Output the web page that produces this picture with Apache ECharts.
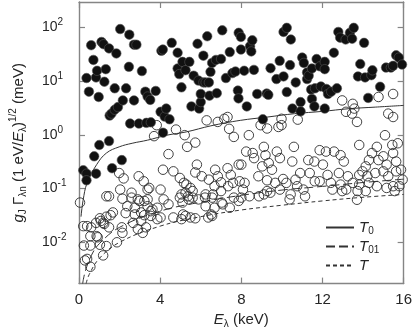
<!DOCTYPE html>
<html><head><meta charset="utf-8">
<script src="https://cdn.jsdelivr.net/npm/echarts@6/dist/echarts.min.js"></script>
<style>html,body{margin:0;padding:0;background:#fff}#c{width:415px;height:334px}</style>
</head><body><div id="c"></div>
<script>
// ---- data (E in keV, reduced width in meV) ----
const filledX = [0.21,0.37,0.37,0.84,0.75,1.0,1.48,1.63,2.11,0.37,0.49,0.60,0.71,0.84,0.89,0.97,1.11,1.21,1.25,1.32,1.48,1.51,1.60,1.76,1.76,1.84,1.92,2.03,2.16,2.32,2.46,2.48,2.52,2.71,2.71,2.83,2.95,3.10,3.27,3.32,3.38,3.51,3.54,3.78,4.02,4.06,4.13,4.14,4.22,4.30,4.46,4.57,4.86,4.86,4.94,5.05,5.10,5.25,5.44,5.54,5.65,5.84,5.89,5.92,6.0,6.0,6.13,6.13,6.24,6.32,6.40,6.43,6.48,6.56,6.75,6.79,7.0,7.06,7.24,7.43,7.56,7.71,7.83,7.86,7.87,7.98,7.98,8.14,8.27,8.43,8.49,8.54,8.62,8.78,9.06,9.25,9.33,9.44,9.73,9.89,10.08,10.08,10.24,10.24,10.40,10.44,10.52,10.68,10.92,10.92,11.0,11.08,11.24,11.24,11.32,11.44,11.48,11.48,11.6,11.63,11.71,11.87,11.92,12.11,12.11,12.11,12.19,12.27,12.43,12.56,12.71,12.78,12.87,13.14,13.35,13.46,13.54,13.75,13.86,14.05,14.1,14.25,14.41,14.46,14.84,15.13,15.37,15.48,15.63,15.76,15.92];
const filledY = [0.22,0.19,0.143,0.19,0.40,0.65,0.77,0.24,0.34,11.5,6.4,47,25,11.8,15.7,5.1,54,49,9.8,16.8,41,2.3,2.5,2.95,7.4,33,3.3,94,4.4,7.4,18.6,74,1.63,4.4,48,48,1.63,15.5,6.4,1.68,5.2,4.5,1.72,6.6,2.7,37,39,1.1,2.2,3.1,1.96,52,34,17.3,13.6,7.7,23,16.1,23,3.4,12.7,50,10.3,3.1,4.1,5.8,30,9.5,9.5,69,9.5,5.4,15,22,25,6.0,26,89,11.5,35,14.2,15.2,6.7,4.8,80,67,39,15.7,3.4,45,36,58,16.3,5.8,1.96,5.9,5.6,17.5,11,24,83,12.3,99,6.3,20,60,3.1,9.5,4.1,2.75,27.6,22,14.6,11,12.7,7,17.3,4.7,3.4,7.4,26,19,8,23,16.8,3.1,7.2,5.8,6.4,34,7.4,83,65,60,80,62,99,12.3,21,52,11.8,4.9,13,16,7.9,18,18,19.4,30.5,27.6,20.5];

const openX = [0.05,0.21,0.24,0.29,0.4,0.4,0.56,0.56,0.56,0.6,0.84,0.87,0.92,1.03,1.03,1.08,1.19,1.19,1.24,1.35,1.35,1.35,1.48,1.48,1.56,1.67,1.87,1.98,2.03,2.11,2.14,2.14,2.2,2.30,2.38,2.59,2.59,2.67,2.75,2.75,2.9,2.9,2.94,2.98,3.06,3.06,3.14,3.19,3.22,3.22,3.30,3.38,3.38,3.38,3.46,3.54,3.54,3.62,3.70,3.83,3.86,3.86,4.02,4.02,4.14,4.17,4.41,4.41,4.65,4.65,4.78,4.97,4.97,5.05,5.05,5.1,5.13,5.17,5.21,5.25,5.25,5.29,5.33,5.37,5.41,5.49,5.49,5.6,5.6,5.73,5.73,5.73,5.81,5.89,6.05,6.21,6.24,6.24,6.29,6.37,6.4,6.52,6.56,6.56,6.6,6.68,6.68,6.71,6.84,6.84,7.0,7.0,7.03,7.08,7.16,7.32,7.32,7.4,7.35,7.43,7.48,7.59,7.63,7.63,7.87,7.87,7.92,8.0,8.0,8.08,8.16,8.24,8.37,8.4,8.56,8.63,8.84,8.87,8.95,9.03,9.11,9.11,9.19,9.27,9.27,9.27,9.35,9.43,9.51,9.67,9.75,9.83,9.9,9.9,9.98,9.98,10.06,10.22,10.38,10.43,10.51,10.59,10.67,10.75,10.78,10.9,11.06,11.14,11.3,11.37,11.6,11.62,11.86,11.86,12.02,12.17,12.25,12.41,12.49,12.57,12.81,12.89,12.89,12.97,12.97,13.05,13.16,13.17,13.25,13.46,13.49,13.49,13.57,13.7,13.7,13.73,13.81,13.81,13.81,13.97,14.13,14.13,14.21,14.29,14.29,14.44,14.6,14.68,14.68,14.76,14.76,15.0,15.0,15.08,15.16,15.16,15.24,15.24,15.44,15.48,15.48,15.48,15.48,15.56,15.63,15.63,15.71,15.79,15.87,15.95];
const openY = [0.055,0.020,0.0087,0.0046,0.020,0.0049,0.013,0.0087,0.0035,0.019,0.023,0.013,0.0124,0.028,0.009,0.025,0.023,0.0057,0.022,0.072,0.030,0.0085,0.072,0.019,0.032,0.036,0.01,0.195,0.096,0.019,0.065,0.015,0.155,0.035,0.047,0.084,0.068,0.023,0.044,0.033,0.063,0.0176,0.17,0.059,0.036,0.025,0.015,0.137,0.059,0.032,0.019,0.047,0.063,0.096,0.103,0.031,0.038,0.041,0.95,1.52,0.027,0.044,0.096,0.029,0.225,0.063,0.44,0.051,0.21,0.029,1.26,0.158,0.068,0.078,0.027,0.055,0.033,0.128,0.99,0.084,0.031,0.119,0.6,0.072,0.063,0.103,0.029,0.09,0.068,0.72,0.20,0.028,0.28,0.063,0.17,0.068,0.078,0.047,1.87,0.029,0.147,0.033,0.068,0.031,0.078,0.044,0.111,0.225,1.75,0.17,0.131,0.09,0.055,0.051,2.0,2.16,0.24,1.3,0.111,0.044,0.18,0.128,0.92,0.068,0.28,0.059,0.137,0.28,0.068,0.096,0.128,0.49,0.99,0.072,0.46,0.37,0.17,0.072,1.52,0.26,0.6,0.078,0.42,1.32,0.143,0.09,0.30,0.084,0.225,0.128,0.49,1.41,0.37,0.096,1.52,2.0,0.151,0.128,0.063,0.078,0.32,0.6,0.147,0.111,1.93,0.195,0.096,0.072,0.34,0.195,0.32,0.137,0.52,0.137,0.28,0.49,0.18,0.128,0.096,0.49,0.195,0.42,0.119,4.4,0.09,0.32,2.7,0.096,0.17,2.5,3.8,0.128,3.1,1.75,0.062,0.09,0.65,0.18,0.119,0.21,0.26,0.09,0.17,0.34,0.128,0.46,0.195,0.6,0.111,5.1,0.34,0.40,0.21,0.99,0.28,0.103,2.5,0.17,0.65,5.8,2.16,0.46,0.111,0.09,0.32,0.21,0.70,0.111,0.225,0.147];

const t0X = [0.1,0.2,0.4,0.87,1.35,1.98,2.62,3.38,4.33,5.29,6.5,7.95,9.3,10.62,12,13.29,14.6,16];
const t0Y = [0.03,0.06,0.128,0.28,0.46,0.6,0.70,0.80,0.99,1.14,1.48,1.87,2.16,2.49,2.75,3.08,3.3,3.55];
const t01X = [0.18,0.3,0.6,1,2,4,6,8,10,12,14,16];
const t01Y = [0.0017,0.0028,0.0056,0.0094,0.019,0.038,0.056,0.075,0.094,0.11,0.13,0.15];
const tX = [0.35,0.5,1,2,4,6,8,10,12,14,16];
const tY = [0.0017,0.0025,0.005,0.01,0.02,0.03,0.04,0.049,0.059,0.069,0.078];

const xTicks = [0,4,8,12,16];
const yTickExp = [-2,-1,0,1,2];
const yRangeMeV = [0.0017, 300];
const seriesNames = ['T0','T01','T'];

// ---- build ----
const lg = v => Math.log10(v);
const pairs = (xs, ys) => xs.map((x,i) => [x, lg(ys[i])]);
const FONT = '"Liberation Sans", Arial, sans-serif';
const GRAY = '#858585';
const INK = '#262626';

const chart = echarts.init(document.getElementById('c'), null, {renderer:'canvas'});
const subName = {T0:'{i|T}{s|0}', T01:'{i|T}{s|01}', T:'{i|T}'};
const baseX = {type:'value', min:xTicks[0], max:xTicks[xTicks.length-1], interval:4,
  axisLine:{onZero:false,lineStyle:{color:GRAY,width:1.4}}, splitLine:{show:false},
  axisTick:{inside:true,length:6,lineStyle:{color:GRAY,width:1.2}}};
const baseY = {type:'value', min:lg(yRangeMeV[0]), max:lg(yRangeMeV[1]),
  axisLine:{show:true,onZero:false,lineStyle:{color:GRAY,width:1.4}}, splitLine:{show:false},
  axisTick:{inside:true,length:6,customValues:yTickExp,lineStyle:{color:GRAY,width:1.2}}};

chart.setOption({
  animation:false,
  backgroundColor:'#fff',
  grid:{left:69,right:9,top:2,bottom:47},
  xAxis:[
    Object.assign({}, baseX, {position:'bottom',
      axisLabel:{color:INK,fontSize:15,fontFamily:FONT,margin:9},
      name:'{i|E}{s|λ}{n| (keV)}', nameLocation:'middle', nameGap:24,
      nameTextStyle:{rich:{
        i:{fontStyle:'italic',fontSize:15,fontFamily:FONT,color:INK},
        s:{fontSize:10,fontFamily:FONT,color:INK,padding:[8,0,0,0]},
        n:{fontSize:15,fontFamily:FONT,color:INK}}}}),
    Object.assign({}, baseX, {position:'top', axisLabel:{show:false}})
  ],
  yAxis:[
    Object.assign({}, baseY, {position:'left',
      axisLabel:{customValues:yTickExp, align:'left', margin:37,
        formatter: v => '{b|10}{p|' + v + '}',
        rich:{b:{fontSize:14,fontFamily:FONT,color:INK},
              p:{fontSize:10,fontFamily:FONT,color:INK,padding:[0,0,10,0]}}},
      name:'{i|g}{s|J}{n| Γ}{s|λn}{n| (1 eV/}{i|E}{s|λ}{n|)}{p|1/2}{n| (meV)}',
      nameLocation:'middle', nameGap:49, nameRotate:90,
      nameTextStyle:{rich:{
        i:{fontStyle:'italic',fontSize:15,fontFamily:FONT,color:INK},
        n:{fontSize:15,fontFamily:FONT,color:INK},
        s:{fontSize:10,fontFamily:FONT,color:INK,padding:[8,0,0,0]},
        p:{fontSize:10,fontFamily:FONT,color:INK,padding:[0,0,12,0]}}}}),
    Object.assign({}, baseY, {position:'right', axisLabel:{show:false}})
  ],
  legend:{
    data:seriesNames, orient:'vertical', left:320, top:215,
    itemWidth:28, itemHeight:14, itemGap:3,
    itemStyle:{color:'rgba(0,0,0,0)', borderWidth:0, opacity:0},
    formatter: n => subName[n],
    textStyle:{rich:{
      i:{fontStyle:'italic',fontSize:15,fontFamily:FONT,color:INK},
      s:{fontSize:10,fontFamily:FONT,color:INK,padding:[7,0,0,0]}}}
  },
  series:[
    {name:'T0', type:'line', data:pairs(t0X,t0Y), smooth:0.4, showSymbol:false, symbol:'none',
      itemStyle:{color:'#333'}, lineStyle:{color:'#333',width:1,type:'solid'}, z:2},
    {name:'T01', type:'line', data:pairs(t01X,t01Y), smooth:0.4, showSymbol:false, symbol:'none',
      itemStyle:{color:'#333'}, lineStyle:{color:'#333',width:1,type:[9,4]}, z:2},
    {name:'T', type:'line', data:pairs(tX,tY), smooth:0.4, showSymbol:false, symbol:'none',
      itemStyle:{color:'#333'}, lineStyle:{color:'#333',width:1,type:[4,3]}, z:2},
    {name:'open', type:'scatter', data:pairs(openX,openY), symbol:'circle', symbolSize:9.5,
      itemStyle:{color:'rgba(255,255,255,0)',borderColor:'#2e2e2e',borderWidth:0.9,opacity:1}, z:3},
    {name:'filled', type:'scatter', data:pairs(filledX,filledY), symbol:'circle', symbolSize:9.5,
      itemStyle:{color:'#111',borderColor:'#555',borderWidth:0.6,opacity:1}, z:4}
  ]
});
</script></body></html>
